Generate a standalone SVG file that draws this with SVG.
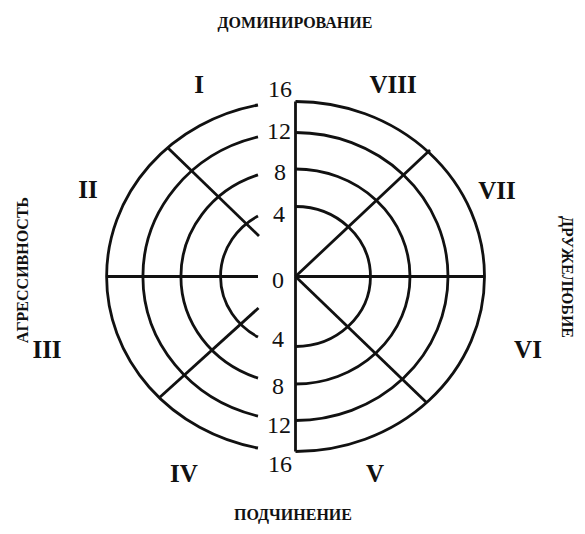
<svg xmlns="http://www.w3.org/2000/svg" width="585" height="534" viewBox="0 0 585 534">
<style>
.ln{fill:none;stroke:#111;stroke-width:2.8;stroke-linecap:butt}
.num{font-family:"Liberation Serif","Times New Roman",serif;font-size:24px;fill:#111;text-anchor:middle}
.rom{font-family:"Liberation Serif","Times New Roman",serif;font-size:25px;font-weight:bold;fill:#111;text-anchor:middle}
.ttl{font-family:"Liberation Serif","Times New Roman",serif;font-size:16px;font-weight:bold;fill:#111;text-anchor:middle}
</style>
<rect width="585" height="534" fill="#fff"/>
<g id="connectors">
<path class="ln" d="M295.5 101.5 V451.5"/>
<path class="ln" d="M107 276.5 H258 M295.5 276.5 H485"/>
<path class="ln" d="M295.5 101.5 A189 175 0 0 1 295.5 451.5"/>
<path class="ln" d="M295.5 132.5 A152.5 144 0 0 1 295.5 420.5"/>
<path class="ln" d="M295.5 169 A114.5 107.5 0 0 1 295.5 384"/>
<path class="ln" d="M295.5 206.5 A75 70 0 0 1 295.5 346.5"/>
<path class="ln" d="M258 105 A189 175 0 0 0 258 448"/>
<path class="ln" d="M258 136.9 A152.5 144 0 0 0 258 416.1"/>
<path class="ln" d="M258 174.9 A114.5 107.5 0 0 0 258 378.1"/>
<path class="ln" d="M258 215.9 A75 70 0 0 0 258 337.1"/>
<path class="ln" d="M295.5 276.5 L430 150"/>
<path class="ln" d="M295.5 276.5 L427 403"/>
<path class="ln" d="M168 148 L259 236"/>
<path class="ln" d="M159 398 L258.5 308"/>
</g>
<g id="scale">
<text class="num" x="280" y="97">16</text>
<text class="num" x="279" y="139">12</text>
<text class="num" x="280" y="180">8</text>
<text class="num" x="279" y="222">4</text>
<text class="num" x="278" y="288">0</text>
<text class="num" x="278" y="347">4</text>
<text class="num" x="278" y="394">8</text>
<text class="num" x="279" y="433">12</text>
<text class="num" x="280" y="472">16</text>
</g>
<g id="octants">
<text class="rom" x="199" y="93">I</text>
<text class="rom" x="88" y="198">II</text>
<text class="rom" x="47" y="358">III</text>
<text class="rom" x="184" y="482">IV</text>
<text class="rom" x="375" y="482">V</text>
<text class="rom" x="528" y="358">VI</text>
<text class="rom" x="497" y="199">VII</text>
<text class="rom" x="393" y="93">VIII</text>
</g>
<g id="axes">
<text class="ttl" x="295" y="28">ДОМИНИРОВАНИЕ</text>
<text class="ttl" x="293" y="520">ПОДЧИНЕНИЕ</text>
<text class="ttl" transform="translate(28 270) rotate(-90)">АГРЕССИВНОСТЬ</text>
<text class="ttl" transform="translate(562 277) rotate(90)">ДРУЖЕЛЮБИЕ</text>
</g>
</svg>
